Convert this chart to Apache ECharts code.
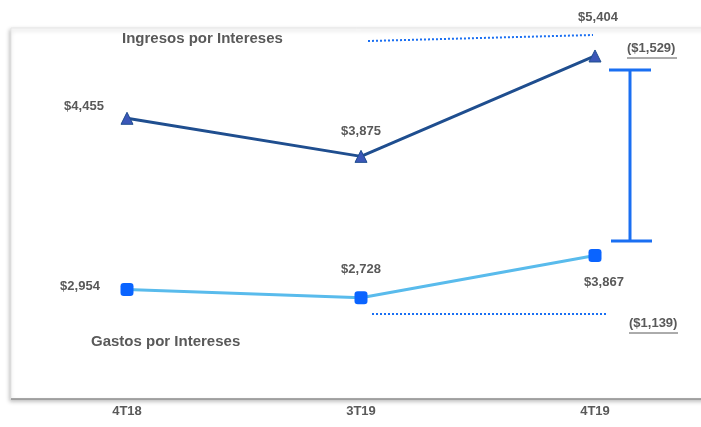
<!DOCTYPE html>
<html>
<head>
<meta charset="utf-8">
<script src="https://cdn.jsdelivr.net/npm/echarts@6/dist/echarts.min.js"></script>
<style>
  html, body { margin: 0; padding: 0; background: #fff; }
  #chart { width: 701px; height: 427px; }
</style>
</head>
<body>
<div id="chart"></div>
<script>
// periodos
var categories = ['4T18', '3T19', '4T19']
// millones de pesos
var ingresos = [4455, 3875, 5404]
var gastos = [2954, 2728, 3867]
var varIngresos = '($1,529)'
var varGastos = '($1,139)'

var font = "'Liberation Sans Narrow', 'Arial Narrow', 'Liberation Sans', Arial, sans-serif"
var gris = '#595959'
var azul = '#1a6ff2'

function money(v) {
  return '$' + v.toLocaleString('en-US')
}

var chart = echarts.init(document.getElementById('chart'))

// offsets de las etiquetas (a mano, como en la lamina)
var ingLabel = [
  { position: 'top', offset: [-43, 6] },
  { position: 'top', offset: [0, -7] },
  { position: 'top', offset: [3, -21] }
]
var gasLabel = [
  { position: 'top', offset: [-47, 15] },
  { position: 'top', offset: [0, -10] },
  { position: 'bottom', offset: [9, 9] }
]

chart.setOption({
  backgroundColor: '#fff',
  animation: false,
  grid: { left: 127, right: 106, top: 28, bottom: 28 },
  xAxis: {
    type: 'category',
    data: categories,
    boundaryGap: false,
    axisLine: { show: false },
    axisTick: { show: false },
    axisLabel: { color: gris, fontFamily: font, fontWeight: 'bold', fontSize: 13, margin: 6 }
  },
  yAxis: [
    { type: 'value', min: 180, max: 5830, show: false },
    { type: 'value', min: 0, max: 10000, show: false }
  ],
  series: [
    {
      name: 'Ingresos por Intereses',
      type: 'line',
      yAxisIndex: 0,
      symbol: 'triangle',
      symbolSize: 12,
      lineStyle: { color: '#1f4e8f', width: 3 },
      itemStyle: { color: '#3b57b8', borderColor: '#1f4e8f', borderWidth: 1 },
      data: ingresos.map(function (v, i) {
        return {
          value: v,
          label: {
            show: true,
            position: ingLabel[i].position,
            offset: ingLabel[i].offset,
            formatter: money(v),
            color: gris, fontFamily: font, fontWeight: 'bold', fontSize: 13
          }
        }
      }),
      z: 3
    },
    {
      name: 'Gastos por Intereses',
      type: 'line',
      yAxisIndex: 1,
      symbol: 'roundRect',
      symbolSize: 13,
      lineStyle: { color: '#59bbec', width: 3 },
      itemStyle: { color: '#0a64ff' },
      data: gastos.map(function (v, i) {
        return {
          value: v,
          label: {
            show: true,
            position: gasLabel[i].position,
            offset: gasLabel[i].offset,
            formatter: money(v),
            color: gris, fontFamily: font, fontWeight: 'bold', fontSize: 13
          }
        }
      }),
      z: 3
    }
  ],
  graphic: [
    // marco con sombra
    {
      type: 'rect', z: -10, silent: true,
      shape: { x: 11, y: 28, width: 710, height: 371 },
      style: {
        fill: '#fff', stroke: '#e6e6e6', lineWidth: 1,
        shadowBlur: 4, shadowOffsetX: -1, shadowOffsetY: 2, shadowColor: 'rgba(0,0,0,0.25)'
      }
    },
    {
      type: 'line', z: -9, silent: true,
      shape: { x1: 11, y1: 399, x2: 701, y2: 399 },
      style: { stroke: '#8c8c8c', lineWidth: 1.5 }
    },
    {
      type: 'text', left: 122, top: 31,
      style: { text: 'Ingresos por Intereses', fill: gris, font: 'bold 15px ' + font }
    },
    {
      type: 'text', left: 91, top: 334,
      style: { text: 'Gastos por Intereses', fill: gris, font: 'bold 15px ' + font }
    },
    {
      type: 'line', silent: true,
      shape: { x1: 368, y1: 41, x2: 593, y2: 35 },
      style: { stroke: azul, lineWidth: 2, lineDash: [2, 2] }
    },
    {
      type: 'line', silent: true,
      shape: { x1: 372, y1: 314, x2: 606, y2: 314 },
      style: { stroke: azul, lineWidth: 2, lineDash: [2, 2] }
    },
    // variaciones subrayadas
    {
      type: 'text', left: 627, top: 42,
      style: { text: varIngresos, fill: gris, font: 'bold 13px ' + font }
    },
    {
      type: 'line', silent: true,
      shape: { x1: 627, y1: 58, x2: 677, y2: 58 },
      style: { stroke: gris, lineWidth: 1 }
    },
    {
      type: 'text', left: 629, top: 317,
      style: { text: varGastos, fill: gris, font: 'bold 13px ' + font }
    },
    {
      type: 'line', silent: true,
      shape: { x1: 629, y1: 333, x2: 678, y2: 333 },
      style: { stroke: gris, lineWidth: 1 }
    },
    // corchete de la brecha
    {
      type: 'polyline', silent: true,
      shape: { points: [[630, 70], [630, 241]] },
      style: { stroke: azul, lineWidth: 3, fill: null }
    },
    {
      type: 'line', silent: true,
      shape: { x1: 609, y1: 70, x2: 651, y2: 70 },
      style: { stroke: azul, lineWidth: 3 }
    },
    {
      type: 'line', silent: true,
      shape: { x1: 611, y1: 241, x2: 652, y2: 241 },
      style: { stroke: azul, lineWidth: 3 }
    }
  ]
})
</script>
</body>
</html>
